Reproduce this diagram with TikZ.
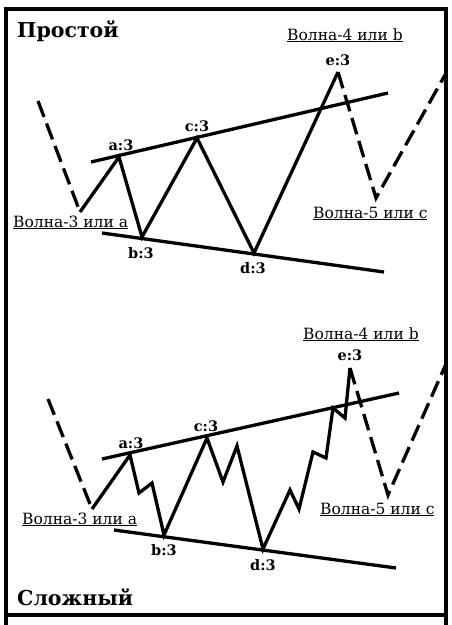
\documentclass[tikz,border=0pt]{standalone}
\usepackage{fontspec}
\setmainfont{DejaVu Serif}
\begin{document}
\begin{tikzpicture}[x=1pt,y=-1pt]
  \tikzset{
    wave/.style={line width=3.3pt},
    future/.style={line width=3.3pt, dash pattern=on 17pt off 7pt},
    trend/.style={line width=3.3pt},
    ptlabel/.style={inner sep=0pt, anchor=base, font=\bfseries\fontsize{14.5}{14.5}\selectfont},
    wavename/.style={inner sep=0pt, anchor=base west, font=\fontsize{15.5}{16}\selectfont},
    paneltitle/.style={inner sep=0pt, anchor=base west, font=\bfseries\fontsize{20.5}{20.5}\selectfont}
  }
  \useasboundingbox (0,0) rectangle (451,625);

  % Frame
  \draw [line width=3.5pt] (6,9) rectangle (446,615);
  \draw [line width=3.5pt] (6,615) -- (6,625);
  \draw [line width=3.5pt] (446,615) -- (446,625);

  % ---------- Simple triangle ----------
  \node [paneltitle] (simple-title) at (17,37) {Простой};

  \coordinate (simple-start) at (38,101);
  \coordinate (simple-w3) at (80,212);
  \coordinate (simple-a) at (119,157);
  \coordinate (simple-b) at (142,237);
  \coordinate (simple-c) at (197,138);
  \coordinate (simple-d) at (254,253);
  \coordinate (simple-e) at (338,72);
  \coordinate (simple-w5) at (376,198);
  \coordinate (simple-end) at (445,75);

  % Trend lines
  \coordinate (simple-up1) at (91,162);
  \coordinate (simple-up2) at (388,93);
  \coordinate (simple-lo1) at (102,233);
  \coordinate (simple-lo2) at (384,272);
  \draw [trend] (simple-up1) -- (simple-up2);
  \draw [trend] (simple-lo1) -- (simple-lo2);

  % Waves
  \draw [future] (simple-start) -- (simple-w3);
  \draw [wave] (simple-w3) -- (simple-a) -- (simple-b) -- (simple-c) -- (simple-d) -- (simple-e);
  \draw [future] (simple-e) -- (simple-w5) -- (simple-end);

  % Labels
  \node [ptlabel] (simple-la) at (121,150) {a:3};
  \node [ptlabel] (simple-lb) at (141,258) {b:3};
  \node [ptlabel] (simple-lc) at (197,131) {c:3};
  \node [ptlabel] (simple-ld) at (253,273) {d:3};
  \node [ptlabel] (simple-le) at (338,65) {e:3};
  \node [wavename] (simple-n3) at (13,227) {\underline{Волна-3 или а}};
  \node [wavename] (simple-n4) at (287,40) {\underline{Волна-4 или b}};
  \node [wavename] (simple-n5) at (313,218) {\underline{Волна-5 или c}};

  % ---------- Complex triangle ----------
  \coordinate (complex-start) at (48,399);
  \coordinate (complex-w3) at (92,509);
  \coordinate (complex-a) at (130,455);
  \coordinate (complex-b) at (164,535);
  \coordinate (complex-c) at (207,438);
  \coordinate (complex-d) at (263,549);
  \coordinate (complex-e) at (350,368);
  \coordinate (complex-w5) at (388,495);
  \coordinate (complex-end) at (446,364);

  % Trend lines
  \coordinate (complex-up1) at (102,459);
  \coordinate (complex-up2) at (399,393);
  \coordinate (complex-lo1) at (114,530);
  \coordinate (complex-lo2) at (396,568);
  \draw [trend] (complex-up1) -- (complex-up2);
  \draw [trend] (complex-lo1) -- (complex-lo2);

  % Waves with inner subwaves
  \draw [future] (complex-start) -- (complex-w3);
  \draw [wave] (complex-w3) -- (complex-a) -- (139,493) -- (152,483) -- (complex-b)
    -- (complex-c) -- (223,482) -- (237,446) -- (complex-d)
    -- (290,490) -- (299,509) -- (313,452) -- (326,458) -- (333,408) -- (345,418) -- (complex-e);
  \draw [future] (complex-e) -- (complex-w5) -- (complex-end);

  % Labels
  \node [ptlabel] (complex-la) at (131,448) {a:3};
  \node [ptlabel] (complex-lb) at (164,555) {b:3};
  \node [ptlabel] (complex-lc) at (206,431) {c:3};
  \node [ptlabel] (complex-ld) at (263,570) {d:3};
  \node [ptlabel] (complex-le) at (350,360) {e:3};
  \node [wavename] (complex-n3) at (22,524) {\underline{Волна-3 или а}};
  \node [wavename] (complex-n4) at (303,339) {\underline{Волна-4 или b}};
  \node [wavename] (complex-n5) at (320,514) {\underline{Волна-5 или c}};

  \node [paneltitle] (complex-title) at (17,605) {Сложный};
\end{tikzpicture}
\end{document}
